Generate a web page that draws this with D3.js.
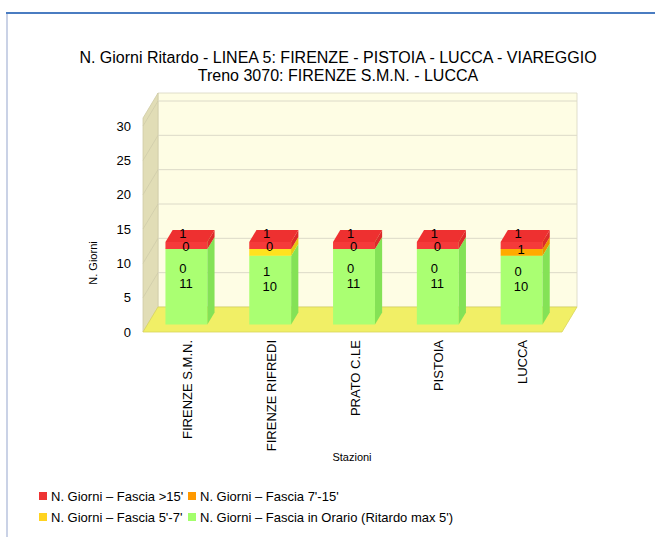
<!DOCTYPE html>
<html>
  <head>
    <meta charset="UTF-8">
    <title>N. Giorni Ritardo - LINEA 5</title>
    <style>
      body { margin: 0; background: #fff; }
      svg text { font-family: "Liberation Sans", Arial, sans-serif; fill: #000; }
    </style>
  </head>
  <body>
    <svg id="chart"></svg>
    <script src="https://d3js.org/d3.v7.min.js"></script>
    <script>

/* DATA */
var stations = ["FIRENZE S.M.N.", "FIRENZE RIFREDI", "PRATO C.LE", "PISTOIA", "LUCCA"];
var inOrario = [11, 10, 11, 11, 10];   // ritardo max 5'
var fascia5_7 = [0, 1, 0, 0, 0];
var fascia7_15 = [0, 0, 0, 0, 1];
var fascia15 = [1, 1, 1, 1, 1];
var yTicks = [0, 5, 10, 15, 20, 25, 30];

var seriesNames = [
  "N. Giorni \u2013 Fascia in Orario (Ritardo max 5')",
  "N. Giorni \u2013 Fascia 5'-7'",
  "N. Giorni \u2013 Fascia 7'-15'",
  "N. Giorni \u2013 Fascia >15'"
];

var width = 655, height = 537;

var svg = d3.select("#chart")
  .attr("width", width)
  .attr("height", height);

// frame
svg.append("line").attr("x1", 7).attr("x2", 7).attr("y1", 13).attr("y2", height)
  .attr("stroke", "#b9c3de").attr("stroke-width", 1.5);
svg.append("line").attr("x1", 6).attr("x2", width).attr("y1", 13).attr("y2", 13)
  .attr("stroke", "#4a7cc1").attr("stroke-width", 2);

// title
var title = svg.append("text").attr("text-anchor", "middle").style("font-size", "16px");
title.append("tspan").attr("x", 338).attr("y", 63)
  .text("N. Giorni Ritardo - LINEA 5: FIRENZE - PISTOIA - LUCCA - VIAREGGIO");
title.append("tspan").attr("x", 338).attr("y", 81)
  .text("Treno 3070: FIRENZE S.M.N. - LUCCA");

/* 3D geometry */
var DX = 15, DY = 25;          // depth offset of the back wall
var x = d3.scaleBand().domain(stations).range([143, 562]).paddingInner(0.5).paddingOuter(0.25);
var y = d3.scaleLinear().domain([0, 30]).range([332, 126]);
var wallTop = y.invert(118);
var barShift = -3;

function P(px, v, f) { return [px + f * DX, y(v) - f * DY]; }
function poly(pts) { return pts.map(function(p) { return p.join(","); }).join(" "); }

var x0 = x.range()[0], x1 = x.range()[1];

// back wall
svg.append("polygon")
  .attr("points", poly([P(x0, wallTop, 1), P(x1, wallTop, 1), P(x1, 0, 1), P(x0, 0, 1)]))
  .attr("fill", "#fefde4").attr("stroke", "#d8d6c0").attr("stroke-width", 0.8);
// left wall
svg.append("polygon")
  .attr("points", poly([P(x0, wallTop, 0), P(x0, wallTop, 1), P(x0, 0, 1), P(x0, 0, 0)]))
  .attr("fill", "#e1ddb6").attr("stroke", "#cfcba6").attr("stroke-width", 0.8);

// grid lines
yTicks.filter(function(t) { return t > 0; }).forEach(function(t) {
  svg.append("line")
    .attr("x1", P(x0, t, 1)[0]).attr("y1", P(x0, t, 1)[1])
    .attr("x2", P(x1, t, 1)[0]).attr("y2", P(x1, t, 1)[1])
    .attr("stroke", "#dcdac8").attr("stroke-width", 1);
  svg.append("line")
    .attr("x1", P(x0, t, 0)[0]).attr("y1", P(x0, t, 0)[1])
    .attr("x2", P(x0, t, 1)[0]).attr("y2", P(x0, t, 1)[1])
    .attr("stroke", "#cfcbaa").attr("stroke-width", 0.8);
});

// floor
svg.append("polygon")
  .attr("points", poly([P(x0, 0, 0), P(x1, 0, 0), P(x1, 0, 1), P(x0, 0, 1)]))
  .attr("fill", "#f1ef66").attr("stroke", "#d9d65a").attr("stroke-width", 0.8);

// y axis tick labels
svg.append("g").selectAll("text").data(yTicks).enter().append("text")
  .attr("x", 131).attr("y", function(d) { return y(d) + 4.5; })
  .attr("text-anchor", "end").style("font-size", "13px")
  .text(function(d) { return d; });

svg.append("text")
  .attr("transform", "translate(97,263) rotate(-90)")
  .attr("text-anchor", "middle").style("font-size", "11px")
  .text("N. Giorni");

/* bars */
var series = [inOrario, fascia5_7, fascia7_15, fascia15];
var colors = [
  { front: "#aaff72", side: "#84e256", top: "#b8ff88" },
  { front: "#ffe21e", side: "#e8c812", top: "#fff050" },
  { front: "#ffaa00", side: "#e99400", top: "#ffbb33" },
  { front: "#f53a3a", side: "#dc2a2a", top: "#ee3030" }
];
var f0 = 0.3, f1 = 0.78;   // depth range of the bars

var bars = svg.append("g");
stations.forEach(function(s, i) {
  var bx0 = x(s) + barShift, bx1 = bx0 + x.bandwidth();
  var base = 0;
  series.forEach(function(vals, k) {
    var v = vals[i];
    if (v > 0) {
      var a = base, b = base + v;
      var c = colors[k];
      bars.append("polygon")
        .attr("points", poly([P(bx0, b, f0), P(bx1, b, f0), P(bx1, a, f0), P(bx0, a, f0)]))
        .attr("fill", c.front);
      bars.append("polygon")
        .attr("points", poly([P(bx1, b, f0), P(bx1, b, f1), P(bx1, a, f1), P(bx1, a, f0)]))
        .attr("fill", c.side);
      bars.append("polygon")
        .attr("points", poly([P(bx0, b, f0), P(bx1, b, f0), P(bx1, b, f1), P(bx0, b, f1)]))
        .attr("fill", c.top);
    }
    base += v;
  });
});

// value labels
var labels = svg.append("g").style("font-size", "13px").attr("text-anchor", "middle");
stations.forEach(function(s, i) {
  var cx = x(s) + barShift + x.bandwidth() / 2 + 1;
  var g = inOrario[i], ye = fascia5_7[i], o = fascia7_15[i], r = fascia15[i];
  var total = g + ye + o + r;
  var yG = P(cx, g / 2, f0)[1] - 4;
  labels.append("text").attr("x", cx + 3).attr("y", yG + 5).text(g);
  labels.append("text").attr("x", cx).attr("y", yG - 15 + 5).text(ye);
  labels.append("text").attr("x", cx + 3).attr("y", P(cx, g + ye + o / 2, f0)[1] + 2).text(o);
  labels.append("text").attr("x", cx).attr("y", P(cx, total, (f0 + f1) / 2)[1] + 2).text(r);
});

// x axis labels
svg.append("g").selectAll("text").data(stations).enter().append("text")
  .attr("transform", function(d) {
    return "translate(" + (x(d) + x.bandwidth() / 2 + 7) + ",340) rotate(-90)";
  })
  .attr("text-anchor", "end").style("font-size", "13px")
  .text(function(d) { return d; });

svg.append("text").attr("x", 352).attr("y", 461)
  .attr("text-anchor", "middle").style("font-size", "11px")
  .text("Stazioni");

/* legend */
var legendItems = [
  { name: seriesNames[3], color: "#ee3333", col: 0, row: 0 },
  { name: seriesNames[2], color: "#ff9900", col: 1, row: 0 },
  { name: seriesNames[1], color: "#ffd320", col: 0, row: 1 },
  { name: seriesNames[0], color: "#a3ff6c", col: 1, row: 1 }
];
var colX = [39, 188];
var legend = svg.append("g").selectAll("g").data(legendItems).enter().append("g")
  .attr("transform", function(d) { return "translate(" + colX[d.col] + "," + (496 + d.row * 21) + ")"; });
legend.append("rect").attr("x", 0).attr("y", -4).attr("width", 8).attr("height", 8)
  .attr("fill", function(d) { return d.color; });
legend.append("text").attr("x", 12).attr("y", 4.5).style("font-size", "13px")
  .text(function(d) { return d.name; });

    </script>
  </body>
</html>
